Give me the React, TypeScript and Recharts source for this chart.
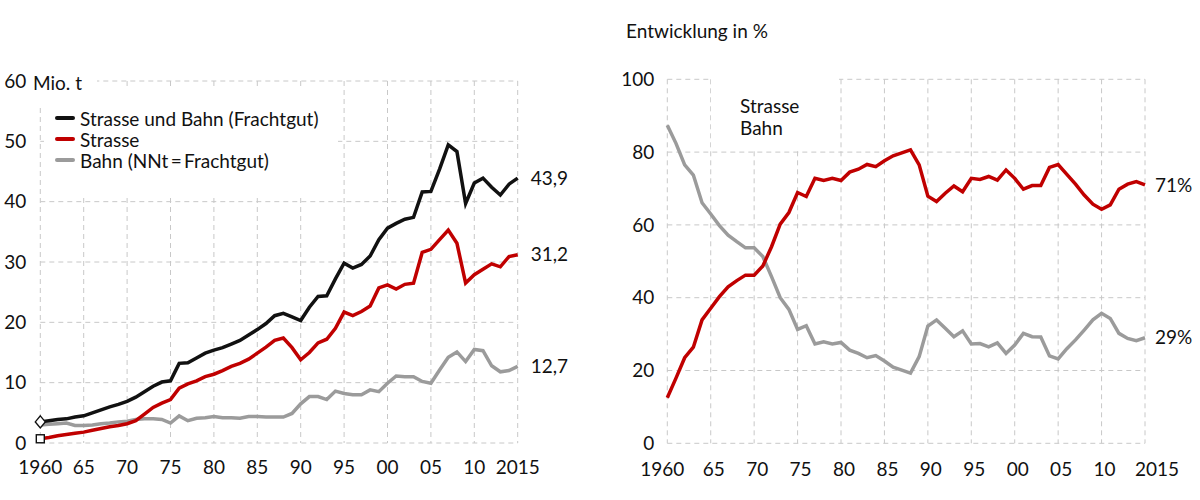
import React from "react";
import { LineChart, Line, XAxis, YAxis, CartesianGrid } from "recharts";

const FONT = "Lato, 'DejaVu Sans', sans-serif";
const FS = 19;
const INK = "#111111";
const RED = "#c00000";
const GREY = "#9b9b9b";
const GRID = "#c8c8c8";

// categories
const years = Array.from({ length: 56 }, (_, i) => 1960 + i);
const yearTicks = [1960, 1965, 1970, 1975, 1980, 1985, 1990, 1995, 2000, 2005, 2010, 2015];
const yearTickLabels = ["1960", "65", "70", "75", "80", "85", "90", "95", "00", "05", "10", "2015"];
const tonnageTicks = [0, 10, 20, 30, 40, 50, 60];
const shareTicks = [0, 20, 40, 60, 80, 100];

// Mio. t, 1960..2015
const roadAndRail = [
  3.5, 3.7, 3.9, 4.0, 4.3, 4.5, 5.0, 5.5, 6.0, 6.4,
  6.9, 7.6, 8.5, 9.4, 10.1, 10.3, 13.2, 13.3, 14.1, 14.9,
  15.4, 15.8, 16.4, 17.0, 17.9, 18.8, 19.8, 21.1, 21.5, 20.9,
  20.3, 22.5, 24.3, 24.4, 27.2, 29.8, 29.0, 29.6, 31.0, 33.7,
  35.6, 36.4, 37.1, 37.4, 41.6, 41.7, 45.4, 49.4, 48.3, 39.7,
  43.1, 43.9, 42.4, 41.1, 42.9, 43.9,
];
const road = [
  0.7, 0.9, 1.2, 1.4, 1.6, 1.8, 2.1, 2.4, 2.7, 2.9,
  3.2, 3.7, 4.8, 5.9, 6.6, 7.2, 9.1, 9.8, 10.3, 11.0,
  11.4, 12.0, 12.7, 13.2, 13.9, 14.9, 15.9, 17.0, 17.4, 15.8,
  13.8, 15.0, 16.6, 17.2, 19.0, 21.7, 21.1, 21.8, 22.7, 25.7,
  26.2, 25.5, 26.3, 26.5, 31.6, 32.1, 33.7, 35.3, 33.1, 26.5,
  27.9, 28.8, 29.7, 29.2, 30.9, 31.2,
];
const rail = [
  3.0, 3.1, 3.2, 3.3, 2.9, 2.9, 3.0, 3.2, 3.3, 3.5,
  3.6, 3.9, 4.0, 4.0, 3.9, 3.3, 4.5, 3.7, 4.1, 4.2,
  4.4, 4.2, 4.2, 4.1, 4.4, 4.4, 4.3, 4.3, 4.3, 4.9,
  6.5, 7.7, 7.7, 7.2, 8.6, 8.2, 8.0, 8.0, 8.8, 8.5,
  9.9, 11.1, 11.0, 11.0, 10.2, 9.9, 12.1, 14.2, 15.1, 13.5,
  15.5, 15.3, 12.8, 11.8, 12.0, 12.7,
];

// Anteil in %, 1960..2015
const roadShare = [
  12.5, 17.9, 23.5, 26.4, 33.9, 37.1, 40.3, 43.0, 44.7, 46.2,
  46.2, 48.7, 54.0, 60.2, 63.4, 68.9, 67.8, 72.8, 72.2, 72.8,
  72.2, 74.5, 75.3, 76.6, 76.0, 77.6, 79.0, 79.8, 80.6, 76.5,
  67.9, 66.4, 68.7, 70.7, 69.1, 72.8, 72.5, 73.3, 72.3, 75.1,
  72.8, 69.8, 70.8, 70.8, 75.8, 76.6, 73.9, 71.2, 68.2, 65.7,
  64.3, 65.5, 69.8, 71.2, 71.9, 71.0,
];
const railShare = [
  87.4, 82.4, 76.5, 73.7, 66.1, 63.0, 59.8, 57.2, 55.4, 53.7,
  53.7, 51.3, 45.8, 40.0, 36.8, 31.3, 32.3, 27.3, 27.9, 27.3,
  27.7, 25.6, 24.7, 23.5, 24.1, 22.6, 20.9, 20.1, 19.3, 23.8,
  32.2, 33.9, 31.6, 29.3, 30.9, 27.3, 27.4, 26.5, 27.6, 24.7,
  27.0, 30.2, 29.3, 29.2, 24.0, 23.2, 26.0, 28.4, 31.1, 33.9,
  35.7, 34.3, 30.2, 28.8, 28.2, 29.0,
];

const leftLegend = ["Strasse und Bahn (Frachtgut)", "Strasse", "Bahn (NNt\u2009=\u2009Frachtgut)"];
const rightLegend = ["Strasse", "Bahn"];
const leftEndLabels = ["43,9", "31,2", "12,7"];
const rightEndLabels = ["71%", "29%"];

const tonnageData = years.map((year, i) => ({
  year,
  total: roadAndRail[i],
  road: road[i],
  rail: rail[i],
}));
const shareData = years.map((year, i) => ({
  year,
  road: roadShare[i],
  rail: railShare[i],
}));

const LAST = years.length - 1;
const fmtYear = (v: number) => yearTickLabels[yearTicks.indexOf(v)] ?? String(v);

const tickStyle = { fontSize: FS, fill: INK, fontFamily: FONT };

function endLabel(text: string, dx: number) {
  return (p: any) =>
    p.index === LAST ? (
      <text key={`end-${text}`} x={p.x + dx} y={p.y} dy="0.35em" fontSize={FS} fill={INK} fontFamily={FONT}>
        {text}
      </text>
    ) : null;
}

function ShiftedTick(props: any) {
  const { x, y, payload } = props;
  const v = payload.value;
  const shift = v === 1960 ? -5 : v === 2015 ? 12 : 3;
  return (
    <text x={x + shift} y={y} dy="0.71em" textAnchor="middle" {...tickStyle}>
      {fmtYear(v)}
    </text>
  );
}

const diamondDot = (p: any) =>
  p.index === 0 ? (
    <path
      key="diamond"
      d={`M${p.cx},${p.cy - 6} L${p.cx + 5},${p.cy} L${p.cx},${p.cy + 6} L${p.cx - 5},${p.cy} Z`}
      fill="#fff"
      stroke={INK}
      strokeWidth={1.4}
    />
  ) : null;

const squareDot = (p: any) =>
  p.index === 0 ? (
    <rect key="square" x={p.cx - 4} y={p.cy - 4} width={8} height={8} fill="#fff" stroke={INK} strokeWidth={1.4} />
  ) : null;

function TonnageChart() {
  return (
    <LineChart
      width={600}
      height={500}
      data={tonnageData}
      margin={{ top: 81, right: 82.3, bottom: 27, left: 0 }}
      style={{ position: "absolute", left: 0, top: 0 }}
    >
      <CartesianGrid strokeDasharray="5 4" stroke={GRID} />
      <XAxis
        dataKey="year"
        type="number"
        domain={[1960, 2015]}
        ticks={yearTicks}
        interval={0}
        tickFormatter={fmtYear}
        axisLine={false}
        tickLine={false}
        tickSize={0}
        tickMargin={18}
        height={30}
        tick={tickStyle}
      />
      <YAxis
        domain={[0, 60]}
        ticks={tonnageTicks}
        interval={0}
        axisLine={false}
        tickLine={false}
        tickSize={0}
        tickMargin={14}
        width={40.3}
        tick={tickStyle}
      />
      <Line dataKey="rail" stroke={GREY} strokeWidth={3.5} dot={false} isAnimationActive={false}
        label={endLabel(leftEndLabels[2], 13)} />
      <Line dataKey="road" stroke={RED} strokeWidth={3.5} dot={squareDot} isAnimationActive={false}
        label={endLabel(leftEndLabels[1], 13)} />
      <Line dataKey="total" stroke={INK} strokeWidth={3.5} dot={diamondDot} isAnimationActive={false}
        label={endLabel(leftEndLabels[0], 13)} />
    </LineChart>
  );
}

function ShareChart() {
  return (
    <LineChart
      width={600}
      height={500}
      data={shareData}
      margin={{ top: 79.3, right: 55, bottom: 26.7, left: 0 }}
      style={{ position: "absolute", left: 600, top: 0 }}
    >
      <CartesianGrid strokeDasharray="5 4" stroke={GRID} />
      <XAxis
        dataKey="year"
        type="number"
        domain={[1960, 2015]}
        ticks={yearTicks}
        interval={0}
        axisLine={false}
        tickLine={false}
        tickSize={0}
        tickMargin={19}
        height={30}
        tick={<ShiftedTick />}
      />
      <YAxis
        domain={[0, 100]}
        ticks={shareTicks}
        interval={0}
        axisLine={false}
        tickLine={false}
        tickSize={0}
        tickMargin={13}
        width={67.3}
        tick={tickStyle}
      />
      <Line dataKey="rail" stroke={GREY} strokeWidth={3.5} dot={false} isAnimationActive={false}
        label={endLabel(rightEndLabels[1], 10)} />
      <Line dataKey="road" stroke={RED} strokeWidth={3.5} dot={false} isAnimationActive={false}
        label={endLabel(rightEndLabels[0], 10)} />
    </LineChart>
  );
}

const swatchColors = [INK, RED, GREY];

export default function App() {
  return (
    <div
      style={{
        position: "absolute",
        left: 0,
        top: 0,
        width: 1200,
        height: 500,
        background: "#fff",
        fontFamily: FONT,
        color: INK,
        overflow: "hidden",
      }}
    >
      <TonnageChart />
      <ShareChart />

      {/* left legend box, masks the grid behind it */}
      <div style={{ position: "absolute", left: 44, top: 86, width: 294, height: 112, background: "#fff" }}>
        {leftLegend.map((name, i) => (
          <div
            key={name}
            style={{
              position: "absolute",
              left: 11,
              top: 21.5 + i * 21,
              height: 21,
              display: "flex",
              alignItems: "center",
              whiteSpace: "nowrap",
              fontSize: FS,
            }}
          >
            <span style={{ width: 20, height: 4, borderRadius: 2, background: swatchColors[i], marginRight: 5 }} />
            {name}
          </div>
        ))}
      </div>

      {/* unit label */}
      <div style={{ position: "absolute", left: 30, top: 70, width: 67, height: 37, background: "#fff" }}>
        <div style={{ position: "absolute", left: 3, top: 2, fontSize: FS, lineHeight: "22px", whiteSpace: "nowrap" }}>
          Mio. t
        </div>
      </div>

      <div style={{ position: "absolute", left: 626, top: 20, fontSize: FS, lineHeight: "22px", whiteSpace: "nowrap" }}>
        Entwicklung in %
      </div>

      {/* right legend box (text only) */}
      <div style={{ position: "absolute", left: 711, top: 78, width: 128, height: 72, background: "#fff" }}>
        {rightLegend.map((name, i) => (
          <div
            key={name}
            style={{ position: "absolute", left: 29, top: 17 + i * 21.5, fontSize: FS, lineHeight: "21px", whiteSpace: "nowrap" }}
          >
            {name}
          </div>
        ))}
      </div>
    </div>
  );
}
